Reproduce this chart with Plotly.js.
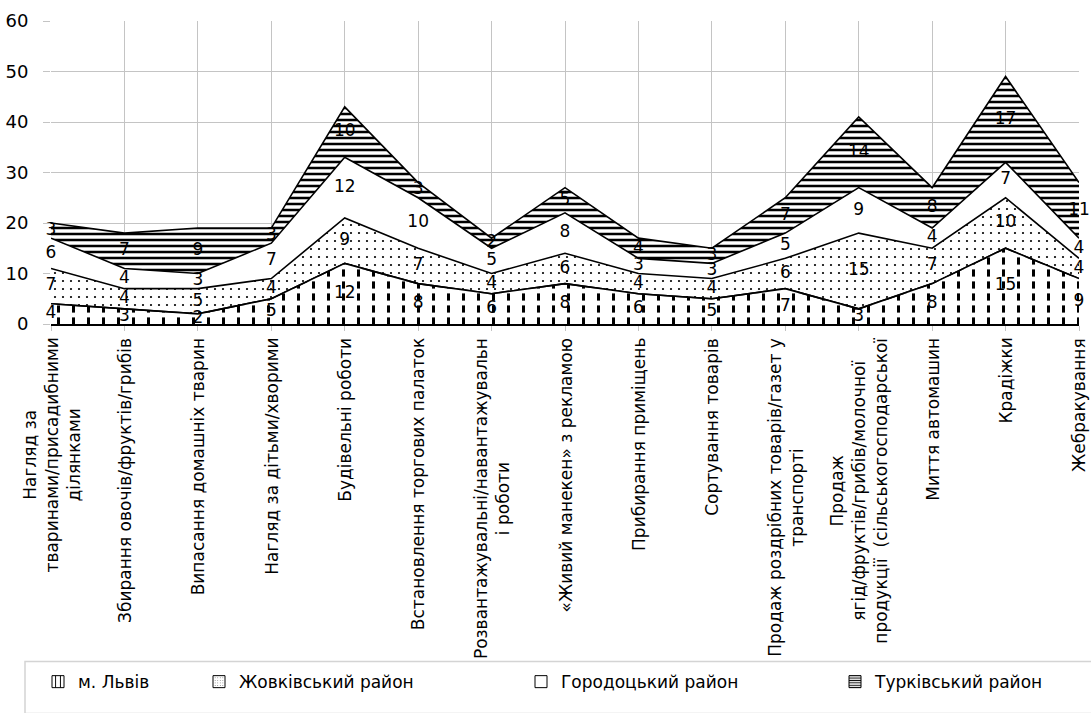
<!DOCTYPE html>
<html>
<head>
<meta charset="utf-8">
<script src="https://cdn.plot.ly/plotly-3.0.1.min.js"></script>
<style>html,body{margin:0;padding:0;background:#fff;}#chart{width:1091px;height:713px;}</style>
</head>
<body>
<div id="chart"></div>
<script>
const categories = [
  "Нагляд за<br>тваринами/присадибними<br>ділянками",
  "Збирання овочів/фруктів/грибів",
  "Випасання домашніх тварин",
  "Нагляд за дітьми/хворими",
  "Будівельні роботи",
  "Встановлення торгових палаток",
  "Розвантажувальні/навантажувальн<br>і роботи",
  "«Живий манекен» з рекламою",
  "Прибирання приміщень",
  "Сортування товарів",
  "Продаж роздрібних товарів/газет у<br>транспорті",
  "Продаж<br>ягід/фруктів/грибів/молочної<br>продукції  (сільськогосподарської",
  "Миття автомашин",
  "Крадіжки",
  "Жебракування"
];
const seriesNames = ["м. Львів", "Жовківський район", "Городоцький район", "Турківський район"];
const lviv     = [4, 3, 2, 5, 12, 8, 6, 8, 6, 5, 7, 3, 8, 15, 9];
const zhovkva  = [7, 4, 5, 4, 9, 7, 4, 6, 4, 4, 6, 15, 7, 10, 4];
const horodok  = [6, 4, 3, 7, 12, 10, 5, 8, 3, 3, 5, 9, 4, 7, 4];
const turka    = [3, 7, 9, 3, 10, 3, 2, 5, 4, 3, 7, 14, 8, 17, 11];
const yTicks = [0, 10, 20, 30, 40, 50, 60];

const FONT = 'DejaVu Sans, Verdana, sans-serif';
const allSeries = [lviv, zhovkva, horodok, turka];
const patterns = [
  {shape: '|', size: 15, solidity: 0.2},
  {shape: '.', size: 8, solidity: 0.06},
  {shape: '', size: 8, solidity: 0.1},
  {shape: '-', size: 6, solidity: 0.42}
];
const legendKeys = ['legend', 'legend2', 'legend3', 'legend4'];
const legendTextStart = [83, 244, 566, 880];
const xIdx = categories.map((c, i) => i);
const traces = [];
allSeries.forEach((s, k) => {
  const p = patterns[k];
  const tr = {
    x: xIdx, y: s, name: seriesNames[k], type: 'scatter', mode: 'lines',
    stackgroup: 'one', line: {color: '#000', width: 1.6},
    fillcolor: '#ffffff', hoverinfo: 'skip', showlegend: false
  };
  if (p.shape) tr.fillpattern = {shape: p.shape, size: p.size, solidity: p.solidity, fgcolor: '#000', bgcolor: '#fff', fillmode: 'replace'};
  traces.push(tr);
});
// white horizontal gaps that break the vertical lines of the first series into dashes
traces.push({
  x: xIdx, y: lviv, type: 'scatter', mode: 'lines', fill: 'tozeroy',
  fillcolor: '#ffffff', line: {color: '#000', width: 1.6},
  fillpattern: {shape: '-', size: 12, solidity: 0.4, fgcolor: '#ffffff', bgcolor: 'rgba(255,255,255,0)', fillmode: 'replace'},
  showlegend: false, hoverinfo: 'skip'
});
// labels in the middle of each band
const cum = xIdx.map(() => 0);
allSeries.forEach((s) => {
  const ys = s.map((v, i) => cum[i] + v / 2);
  s.forEach((v, i) => { cum[i] += v; });
  traces.push({
    x: xIdx, y: ys, text: s.map(String), type: 'scatter', mode: 'text',
    textfont: {family: FONT, size: 17, color: '#000'},
    textposition: 'middle center', showlegend: false, hoverinfo: 'skip', cliponaxis: false
  });
});
// legend entries (small patterned squares)
allSeries.forEach((s, k) => {
  const p = patterns[k];
  const mk = {color: '#fff', line: {color: '#000', width: 1}};
  if (p.shape) mk.pattern = {shape: p.shape, size: Math.max(3, p.size / 2.5), solidity: p.solidity, fgcolor: '#000', bgcolor: '#fff', fillmode: 'replace'};
  traces.push({
    x: [-10], y: [0], type: 'bar', name: seriesNames[k], marker: mk,
    showlegend: true, legend: legendKeys[k], hoverinfo: 'skip'
  });
});

const plotL = 51, plotW = 1091 - 51 - 12, plotT = 21, plotH = 308;
const pxToPaperX = (px) => (px - plotL) / plotW;
const pxToPaperY = (py) => (plotT + plotH - py) / plotH;

const layout = {
  width: 1091, height: 713,
  margin: {l: plotL, r: 12, t: plotT, b: 713 - plotT - plotH},
  paper_bgcolor: '#fff', plot_bgcolor: '#fff',
  font: {family: FONT, color: '#000'},
  showlegend: true,
  xaxis: {
    range: [0, 14], tickvals: xIdx, showticklabels: false,
    showgrid: true, gridcolor: '#c4c4c4', gridwidth: 1,
    zeroline: false, showline: true, linecolor: '#000', linewidth: 1.5,
    ticks: 'outside', ticklen: 5, tickcolor: '#c4c4c4', fixedrange: true
  },
  yaxis: {
    range: [0, 60], tickvals: yTicks, tickfont: {size: 18, family: FONT},
    showgrid: true, gridcolor: '#c4c4c4', gridwidth: 1, zeroline: false,
    showline: false, ticks: 'outside', ticklen: 7, tickcolor: '#c4c4c4',
    ticklabelstandoff: 11, fixedrange: true
  },
  annotations: categories.map((c, i) => ({
    x: i, xref: 'x', y: 0, yref: 'paper', yshift: -12,
    xanchor: 'center', yanchor: 'top', textangle: -90, align: 'center',
    text: c, showarrow: false, font: {family: FONT, size: 17, color: '#000'}
  })),
  shapes: [{
    type: 'rect', xref: 'paper', yref: 'paper',
    x0: pxToPaperX(25), x1: pxToPaperX(1100), y0: pxToPaperY(672), y1: pxToPaperY(725),
    line: {color: '#d4d4d4', width: 1.5}, fillcolor: 'rgba(0,0,0,0)', layer: 'below'
  }]
};
legendKeys.forEach((key, k) => {
  layout[key] = {
    orientation: 'h', x: pxToPaperX(legendTextStart[k] - 45), y: pxToPaperY(693),
    xanchor: 'left', yanchor: 'middle', bgcolor: 'rgba(0,0,0,0)',
    font: {size: 17, family: FONT, color: '#000'}
  };
});
Plotly.newPlot('chart', traces, layout, {displayModeBar: false, staticPlot: true});
</script>
</body>
</html>
